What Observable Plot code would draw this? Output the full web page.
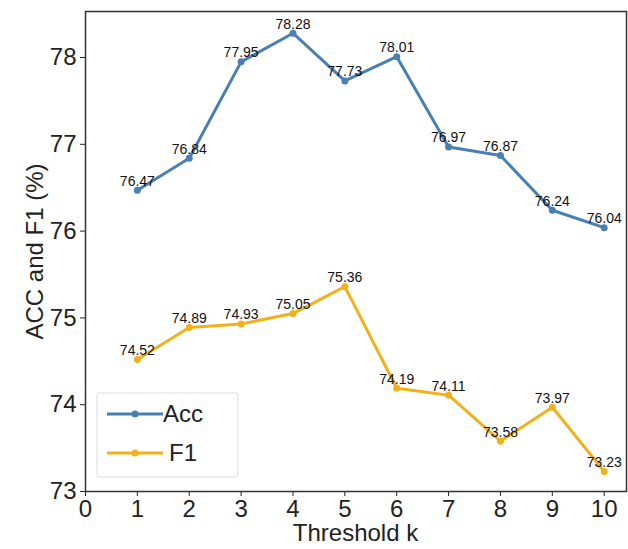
<!DOCTYPE html>
<html><head><meta charset="utf-8">
<script src="https://cdn.jsdelivr.net/npm/d3@7"></script>
<script src="https://cdn.jsdelivr.net/npm/@observablehq/plot@0.6"></script>
<style>body{margin:0;background:#fff;} svg{font-family:"Liberation Sans",Arial,sans-serif;}</style>
</head><body><div id="chart"></div>
<script>
const thresholds = [1,2,3,4,5,6,7,8,9,10];
const acc = [76.47,76.84,77.95,78.28,77.73,78.01,76.97,76.87,76.24,76.04];
const f1 = [74.52,74.89,74.93,75.05,75.36,74.19,74.11,73.58,73.97,73.23];
const seriesNames = ["Acc","F1"];
const colors = ["#4a7fb3","#f0b21c"];
const xTicks = [0,1,2,3,4,5,6,7,8,9,10];
const yTicks = [73,74,75,76,77,78];

const rows = [];
thresholds.forEach((k,i)=>{ rows.push({k, v: acc[i], s: "Acc"}); rows.push({k, v: f1[i], s: "F1"}); });

const plot = Plot.plot({
  width: 628, height: 549,
  marginLeft: 85, marginRight: 2, marginTop: 11, marginBottom: 58,
  style: {fontFamily: '"Liberation Sans", Arial, sans-serif', background: "#fff"},
  x: {domain: [0, 10.43]},
  y: {domain: [73, 78.53]},
  color: {domain: seriesNames, range: colors},
  marks: [
    Plot.axisX({ticks: xTicks, tickFormat: d => String(d), fontSize: 24, tickSize: 5, tickPadding: 3, label: null, color: "#222"}),
    Plot.axisY({ticks: yTicks, tickFormat: d => String(d), fontSize: 24, tickSize: 5, tickPadding: 4, label: "ACC and F1 (%)", labelArrow: "none", labelAnchor: "center", labelOffset: 60, color: "#222"}),
    Plot.line(rows, {x: "k", y: "v", z: "s", stroke: "s", strokeWidth: 3}),
    Plot.dot(rows, {x: "k", y: "v", fill: "s", r: 3.5}),
    Plot.text(rows, {x: "k", y: "v", text: d => d.v.toFixed(2), dy: -9, fontSize: 14, fill: "#111"}),
    Plot.frame({stroke: "#333", strokeWidth: 1.5})
  ]
});
document.getElementById("chart").append(plot);

const svg = d3.select(plot);
// x-axis title below tick labels
svg.append("text").attr("x", (85 + 626) / 2).attr("y", 541).attr("text-anchor", "middle")
  .attr("font-size", 24).attr("fill", "#222").text("Threshold k");

// legend inside plot area (bottom-left)
const lg = svg.append("g");
lg.append("rect").attr("x", 97).attr("y", 393).attr("width", 141).attr("height", 84).attr("rx", 3)
  .attr("fill", "#fff").attr("fill-opacity", 0.85).attr("stroke", "#ddd").attr("stroke-width", 1);
seriesNames.forEach((name, i) => {
  const y = 414 + i * 39;
  lg.append("line").attr("x1", 107).attr("x2", 163).attr("y1", y).attr("y2", y).attr("stroke", colors[i]).attr("stroke-width", 3);
  lg.append("circle").attr("cx", 135).attr("cy", y).attr("r", 3.5).attr("fill", colors[i]);
  lg.append("text").attr("x", 183).attr("y", y).attr("dy", "0.35em").attr("font-size", 24).attr("fill", "#222").text(name);
});
</script></body></html>
